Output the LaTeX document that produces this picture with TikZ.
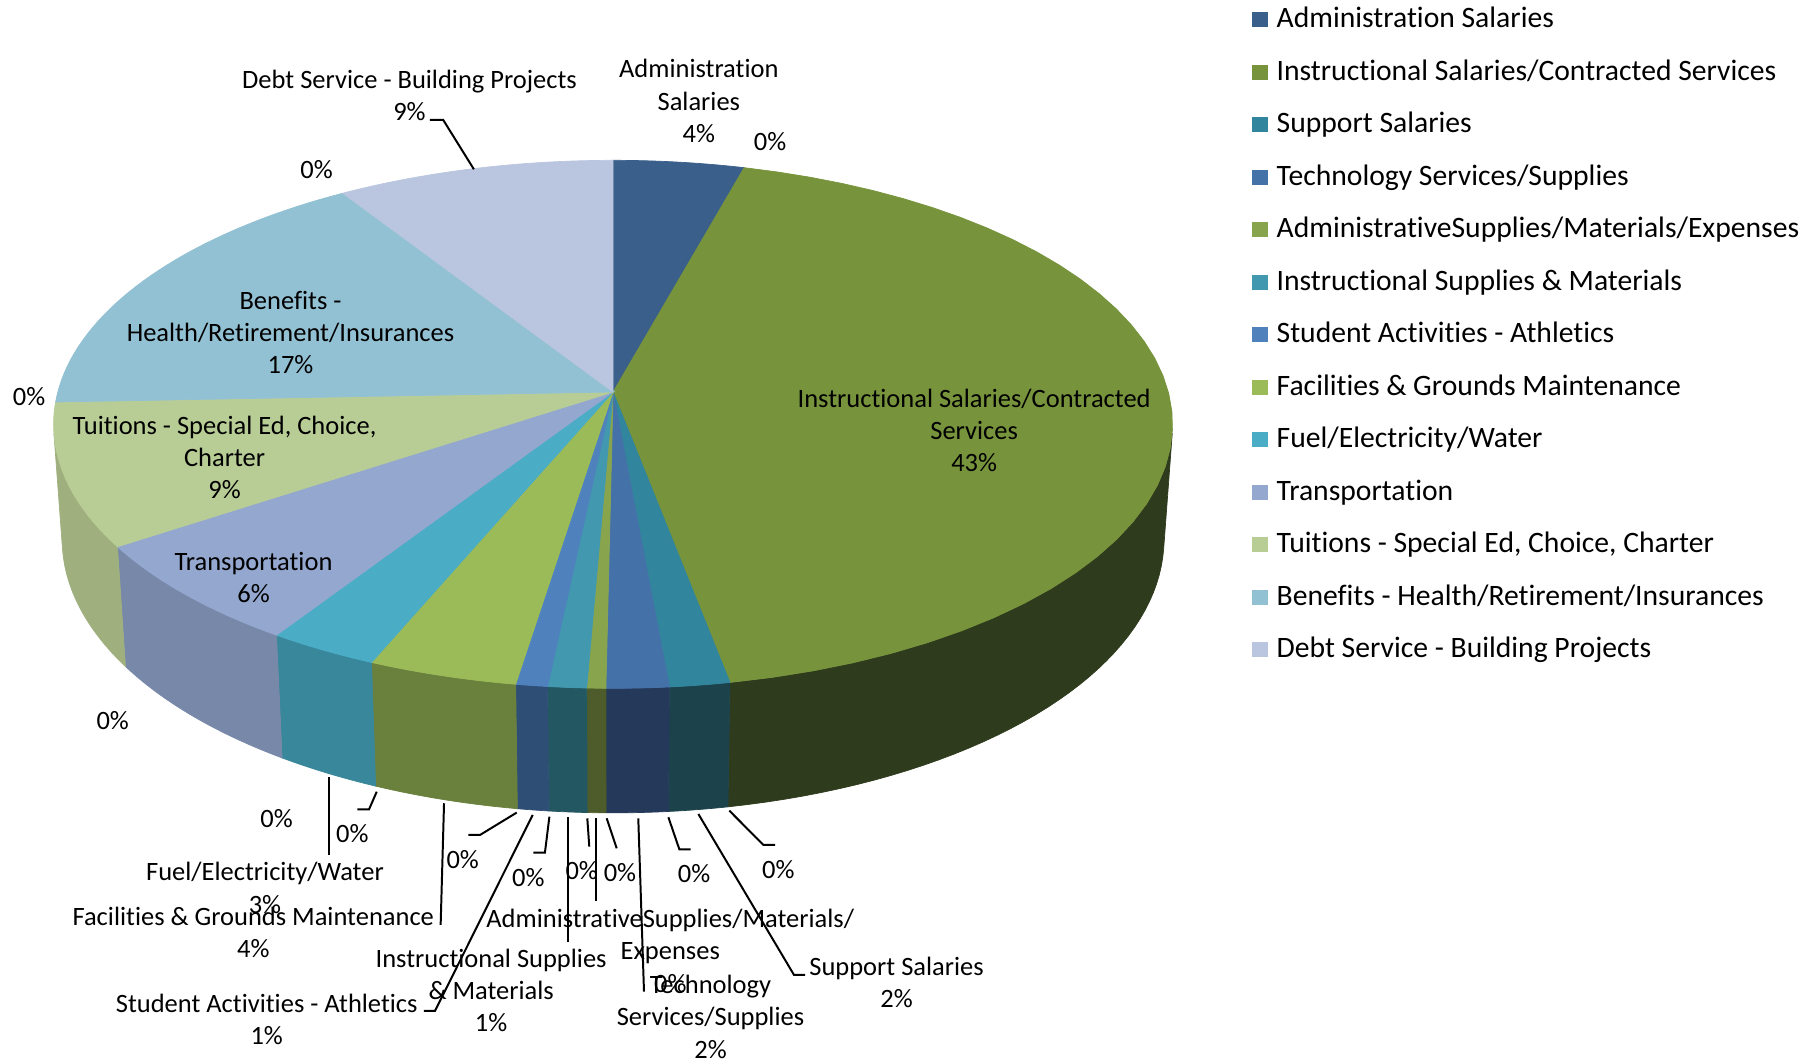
\documentclass[tikz,border=0pt]{standalone}
\usepackage{fontspec}
\setmainfont{Carlito}[Ligatures=NoCommon]
\usetikzlibrary{positioning}
\definecolor{cA}{HTML}{3A5F8B}
\definecolor{cB}{HTML}{77933C}
\definecolor{cC}{HTML}{31859C}
\definecolor{cD}{HTML}{4571A9}
\definecolor{cE}{HTML}{88A44D}
\definecolor{cF}{HTML}{4198AF}
\definecolor{cG}{HTML}{4F81BD}
\definecolor{cH}{HTML}{9BBB59}
\definecolor{cI}{HTML}{4BACC6}
\definecolor{cJ}{HTML}{93A7CF}
\definecolor{cK}{HTML}{B8CD96}
\definecolor{cL}{HTML}{92C1D3}
\definecolor{cM}{HTML}{BAC6DF}
\definecolor{wB}{HTML}{2F3B1D}
\definecolor{wC}{HTML}{1C424B}
\definecolor{wD}{HTML}{25395A}
\definecolor{wE}{HTML}{4D5C2A}
\definecolor{wF}{HTML}{235863}
\definecolor{wG}{HTML}{2F4E76}
\definecolor{wH}{HTML}{6A803D}
\definecolor{wI}{HTML}{39879A}
\definecolor{wJ}{HTML}{7788A9}
\definecolor{wK}{HTML}{9FB07E}
\newcommand\lblfont{\fontsize{11.35}{13.85}\selectfont}
\newcommand\legfont{\fontsize{12.7}{15}\selectfont}

\begin{document}
\begin{tikzpicture}[x=0.5pt, y=-0.5pt,
	declare function={pd(\t,\z)=7.219+0.8836*cos(\t)-0.4683*\z;
		px(\t,\z)=525.5+3436*sin(\t)/pd(\t,\z);
		py(\t,\z)=336-3436*(0.4683*cos(\t)+0.8836*\z)/pd(\t,\z);},
	lbl/.style={align=center, font=\lblfont, inner sep=0pt},
	ldr/.style={line width=0.85pt},
	sq/.style={minimum size=6.5pt, inner sep=0pt},
	leg/.style={font=\legfont, inner sep=0pt, text height=9pt, text depth=2.4pt}]
	\useasboundingbox (0,0) rectangle (1560,910);
	\coordinate (o) at (525.5,336);
	\foreach \a/\b/\c in {99/169.33/wB, 169.33/174.89/wC, 174.89/180.65/wD, 180.65/182.39/wE, 182.39/185.95/wF, 185.95/188.87/wG, 188.87/202.7/wH, 202.7/212.95/wI, 212.95/236.3/wJ, 236.3/261/wK}
		\filldraw[fill=\c, draw=\c, line width=0.3pt] plot[domain=\a:\b, samples=40, variable=\t] ({px(\t,0)},{py(\t,0)}) -- plot[domain=\b:\a, samples=40, variable=\t] ({px(\t,-0.2359)},{py(\t,-0.2359)}) -- cycle;
	\foreach \a/\b/\c in {0/15.3/cA, 15.3/169.33/cB, 169.33/174.89/cC, 174.89/180.65/cD, 180.65/182.39/cE, 182.39/185.95/cF, 185.95/188.87/cG, 188.87/202.7/cH, 202.7/212.95/cI, 212.95/236.3/cJ, 236.3/267.8/cK, 267.8/327.5/cL, 327.5/360/cM}
		\filldraw[fill=\c, draw=\c, line width=0.3pt] (o) -- plot[domain=\a:\b, samples=40, variable=\t] ({px(\t,0)},{py(\t,0)}) -- cycle;

	\foreach \c/\s [count=\i from 0] in {cA/Administration Salaries, cB/{Instructional Salaries/Contracted Services}, cC/Support Salaries, cD/{Technology Services/Supplies}, cE/{AdministrativeSupplies/Materials/Expenses}, cF/Instructional Supplies \& Materials, cG/Student Activities - Athletics, cH/Facilities \& Grounds Maintenance, cI/{Fuel/Electricity/Water}, cJ/Transportation, cK/{Tuitions - Special Ed, Choice, Charter}, cL/{Benefits - Health/Retirement/Insurances}, cM/Debt Service - Building Projects}{
		\node[sq, fill=\c] (s\i) at (1080,17+45*\i) {};
		\node[leg, right=3.5pt of s\i] (t\i) {\s};
	}

	\node[lbl] (adm) at (599,86.5) {Administration\\Salaries\\4\%};
	\node[lbl] (ins) at (835,369) {Instructional Salaries/Contracted\\Services\\43\%};
	\node[lbl] (debt) at (351,81.5) {Debt Service - Building Projects\\9\%};
	\node[lbl] (ben) at (249,285) {Benefits -\\Health/Retirement/Insurances\\17\%};
	\node[lbl] (tui) at (192.5,392) {Tuitions - Special Ed, Choice,\\Charter\\9\%};
	\node[lbl] (tra) at (217.3,495) {Transportation\\6\%};
	\node[lbl] (fue) at (227.1,761) {Fuel/Electricity/Water\\3\%};
	\node[lbl] (fac) at (217.1,799) {Facilities \& Grounds Maintenance\\4\%};
	\node[lbl] (stu) at (228.6,873.5) {Student Activities - Athletics\\1\%};
	\node[lbl] (isu) at (421,849) {Instructional Supplies\\\& Materials\\1\%};
	\node[lbl] (asu) at (574.5,815) {AdministrativeSupplies/Materials/\\Expenses\\0\%};
	\node[lbl] (tec) at (609,871.4) {Technology\\Services/Supplies\\2\%};
	\node[lbl] (sup) at (768.5,842) {Support Salaries\\2\%};
	\node[lbl] (z1) at (660,121) {0\%};
	\node[lbl] (z2) at (271.4,145.2) {0\%};
	\node[lbl] (z3) at (25,339.5) {0\%};
	\node[lbl] (z4) at (96.6,617.8) {0\%};
	\node[lbl] (z5) at (237.1,701.4) {0\%};
	\node[lbl] (z6) at (302,714.3) {0\%};
	\node[lbl] (z7) at (396.6,737) {0\%};
	\node[lbl] (z8) at (452.9,752) {0\%};
	\node[lbl] (z9) at (498.6,746.2) {0\%};
	\node[lbl] (z10) at (531.4,748) {0\%};
	\node[lbl] (z11) at (594.9,748.5) {0\%};
	\node[lbl] (z12) at (667.1,745.7) {0\%};

	\coordinate (debt1) at (368.5,102.8);
	\coordinate (debt2) at (379.9,102.8);
	\coordinate (debt3) at (406.2,145.1);
	\coordinate (z6a) at (306.3,693.8);
	\coordinate (z6b) at (316.3,693.8);
	\coordinate (z6c) at (322.9,678.6);
	\coordinate (fue1) at (282.3,732.9);
	\coordinate (fue2) at (282.3,665.7);
	\coordinate (fac1) at (377.7,792.8);
	\coordinate (fac2) at (380.6,688.5);
	\coordinate (z7a) at (401.4,715.7);
	\coordinate (z7b) at (411.4,715.7);
	\coordinate (z7c) at (442.9,696.5);
	\coordinate (stu1) at (363.4,866.4);
	\coordinate (stu2) at (372.9,866.4);
	\coordinate (stu3) at (456.6,698.5);
	\coordinate (z8a) at (457.1,730.8);
	\coordinate (z8b) at (467.1,730.8);
	\coordinate (z8c) at (470.9,700);
	\coordinate (isu1) at (486.6,807.1);
	\coordinate (isu2) at (486.6,700);
	\coordinate (z9a) at (505.1,725.7);
	\coordinate (z9b) at (503.4,701.4);
	\coordinate (asu1) at (510.9,772.2);
	\coordinate (asu2) at (510.9,701.4);
	\coordinate (z10a) at (528.6,727.1);
	\coordinate (z10b) at (520,701.4);
	\coordinate (tec1) at (552,850);
	\coordinate (tec2) at (547.1,701.4);
	\coordinate (z11a) at (592,728);
	\coordinate (z11b) at (582.3,728);
	\coordinate (z11c) at (572.9,700.5);
	\coordinate (sup1) at (690,835.7);
	\coordinate (sup2) at (680.6,835.7);
	\coordinate (sup3) at (598.6,697.7);
	\coordinate (z12a) at (664.3,724.2);
	\coordinate (z12b) at (654.3,724.2);
	\coordinate (z12c) at (625.1,694.8);

	\draw[ldr] (debt1) -- (debt2) -- (debt3);
	\draw[ldr] (z6a) -- (z6b) -- (z6c);
	\draw[ldr] (fue1) to (fue2);
	\draw[ldr] (fac1) to (fac2);
	\draw[ldr] (z7a) -- (z7b) -- (z7c);
	\draw[ldr] (stu1) -- (stu2) -- (stu3);
	\draw[ldr] (z8a) -- (z8b) -- (z8c);
	\draw[ldr] (isu1) to (isu2);
	\draw[ldr] (z9a) to (z9b);
	\draw[ldr] (asu1) to (asu2);
	\draw[ldr] (z10a) to (z10b);
	\draw[ldr] (tec1) to (tec2);
	\draw[ldr] (z11a) -- (z11b) -- (z11c);
	\draw[ldr] (sup1) -- (sup2) -- (sup3);
	\draw[ldr] (z12a) -- (z12b) -- (z12c);
\end{tikzpicture}
\end{document}
